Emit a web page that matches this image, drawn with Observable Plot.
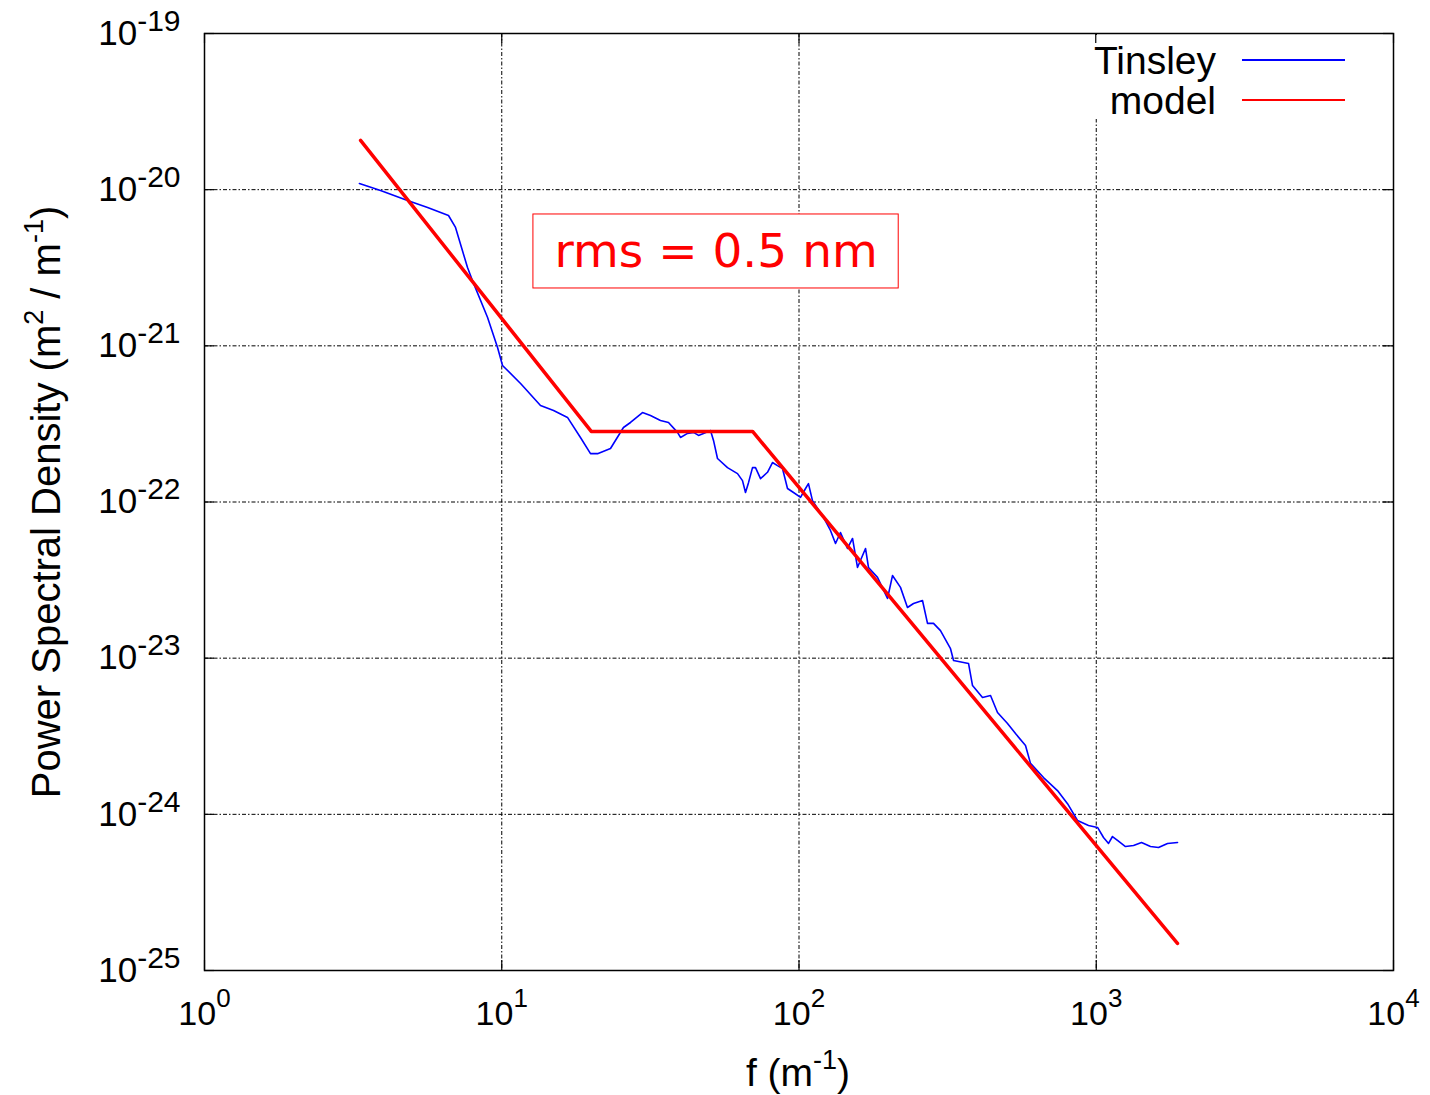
<!DOCTYPE html>
<html><head><meta charset="utf-8">
<script src="https://cdn.jsdelivr.net/npm/d3@7"></script>
<script src="https://cdn.jsdelivr.net/npm/@observablehq/plot@0.6"></script>
<style>
body{margin:0;background:#fff}
#chart svg{font-family:"Liberation Sans",Arial,sans-serif;background:#fff}
</style>
</head><body><div id="chart"></div>
<script>
// ---- data ----
const tinsleyF = [3.32,3.91,4.82,5.63,6.62,6.99,7.67,8.04,8.96,9.68,
  10.06,11.57,13.50,14.94,16.64,18.40,19.89,21.00,23.22,25.67,
  27.11,29.75,31.65,34.20,36.39,39.02,39.93,42.17,44.17,45.91,
  47.72,50.38,51.57,53.19,57.47,62.11,64.55,66.07,67.63,69.76,
  71.40,74.22,78.34,81.43,84.65,88.00,91.48,95.83,101.2,105.2,
  107.6,111.0,120.9,127.6,132.7,137.9,145.6,151.4,157.3,167.4,
  171.3,183.7,198.5,206.3,219.5,231.7,242.8,260.3,270.6,283.5,
  299.2,323.4,331.1,371.8,383.5,414.3,440.9,465.4,502.9,535.0,
  578.1,600.9,664.6,740.5,800.6,864.8,941.7,1010,1058,1100,
  1134,1179,1254,1335,1420,1522,1620,1737,1877];
const tinsleyP = [1.095e-20,9.88e-21,8.53e-21,7.69e-21,6.83e-21,5.73e-21,3.17e-21,2.51e-21,1.52e-21,9.76e-22,
  7.48e-22,5.74e-22,4.15e-22,3.85e-22,3.48e-22,2.59e-22,2.04e-22,2.04e-22,2.20e-22,3.00e-22,
  3.23e-22,3.74e-22,3.58e-22,3.33e-22,3.23e-22,2.79e-22,2.59e-22,2.75e-22,2.79e-22,2.67e-22,
  2.75e-22,2.87e-22,2.48e-22,1.90e-22,1.66e-22,1.52e-22,1.37e-22,1.15e-22,1.33e-22,1.66e-22,
  1.66e-22,1.41e-22,1.55e-22,1.79e-22,1.71e-22,1.64e-22,1.22e-22,1.15e-22,1.07e-22,1.22e-22,
  1.31e-22,1.02e-22,7.96e-23,6.57e-23,5.42e-23,6.38e-23,5.04e-23,5.84e-23,3.81e-23,5.04e-23,
  3.81e-23,3.29e-23,2.41e-23,3.38e-23,2.84e-23,2.11e-23,2.24e-23,2.34e-23,1.67e-23,1.67e-23,
  1.50e-23,1.15e-23,9.66e-24,9.25e-24,6.68e-24,5.60e-24,5.77e-24,4.49e-24,3.82e-24,3.29e-24,
  2.76e-24,2.12e-24,1.72e-24,1.42e-24,1.17e-24,9.13e-25,8.48e-25,8.24e-25,7.11e-25,6.51e-25,
  7.21e-25,6.80e-25,6.22e-25,6.32e-25,6.60e-25,6.22e-25,6.13e-25,6.51e-25,6.60e-25];
const modelF = [3.35, 20.0, 69.8, 1876];
const modelP = [2.07e-20, 2.83e-22, 2.83e-22, 1.49e-25];
const xTicks = [1, 10, 100, 1000, 10000];
const yTicks = [1e-25, 1e-24, 1e-23, 1e-22, 1e-21, 1e-20, 1e-19];
const xGrid = [10, 100, 1000];
const yGrid = [1e-24, 1e-23, 1e-22, 1e-21, 1e-20];
const seriesNames = ["Tinsley", "model"];
const seriesColors = ["#0000ff", "#ff0000"];
const annotationText = "rms = 0.5 nm";
const annotationF = [52.6];
const annotationP = [4.02e-21];
const xLabel = ["f (m", "-1", ")"];
const yLabel = ["Power Spectral Density (m", "2", " / m", "-1", ")"];

// ---- layout ----
const W = 1430, H = 1095, mL = 204, mR = 37, mT = 33, mB = 125;
const plotW = W - mL - mR, plotH = H - mT - mB;
const dots = "4,2,1.5,2";

const tIdx = d3.range(tinsleyF.length);
const mIdx = d3.range(modelF.length);

const chart = Plot.plot({
  width: W, height: H,
  marginLeft: mL, marginRight: mR, marginTop: mT, marginBottom: mB,
  style: {fontFamily: '"Liberation Sans", Arial, sans-serif', background: "#fff", color: "#000"},
  x: {type: "log", domain: [1, 1e4]},
  y: {type: "log", domain: [1e-25, 1e-19]},
  marks: [
    Plot.ruleX(xGrid, {stroke: "#000", strokeWidth: 1, strokeDasharray: dots}),
    Plot.ruleY(yGrid, {stroke: "#000", strokeWidth: 1, strokeDasharray: dots}),
    // inward ticks on all four sides
    Plot.ruleX(xTicks, {insetTop: plotH - 10, stroke: "#000", strokeWidth: 1.2}),
    Plot.ruleX(xTicks, {insetBottom: plotH - 10, stroke: "#000", strokeWidth: 1.2}),
    Plot.ruleY(yTicks, {insetRight: plotW - 10, stroke: "#000", strokeWidth: 1.2}),
    Plot.ruleY(yTicks, {insetLeft: plotW - 10, stroke: "#000", strokeWidth: 1.2}),
    Plot.axisX(xTicks, {tickSize: 0, tickPadding: 30, fontSize: 34, label: null,
      tickFormat: d => "10^" + Math.round(Math.log10(d))}),
    Plot.axisY(yTicks, {tickSize: 0, tickPadding: 24, fontSize: 35, label: null,
      tickFormat: d => "10^" + Math.round(Math.log10(d))}),
    Plot.line(tIdx, {x: i => tinsleyF[i], y: i => tinsleyP[i], stroke: seriesColors[0], strokeWidth: 1.6}),
    Plot.line(mIdx, {x: i => modelF[i], y: i => modelP[i], stroke: seriesColors[1], strokeWidth: 3.5}),
    Plot.text([0], {x: () => annotationF[0], y: () => annotationP[0], text: () => annotationText,
      fill: "#ff0000", fontSize: 47, fontFamily: '"DejaVu Sans", sans-serif'}),
    Plot.frame({stroke: "#000", strokeWidth: 1.5})
  ]
});
document.getElementById("chart").appendChild(chart);

const svg = d3.select(chart);
// superscript tick labels
function supify(sel, expSize, rise) {
  sel.each(function() {
    const t = d3.select(this);
    const s = t.text();
    const [base, exp] = s.split("^");
    t.text("");
    t.append("tspan").text(base);
    t.append("tspan").attr("dy", -rise).attr("font-size", expSize).text(exp);
  });
}
supify(svg.selectAll('g[aria-label="x-axis tick label"] text'), 26, 18);
supify(svg.selectAll('g[aria-label="y-axis tick label"] text'), 30, 14);

// axis titles with superscripts
function richText(g, parts, supSize, rise) {
  parts.forEach((p, k) => {
    const isSup = k % 2 === 1;
    const ts = g.append("tspan").text(p);
    if (isSup) ts.attr("font-size", supSize).attr("dy", -rise);
    else if (k > 0) ts.attr("dy", rise);
  });
}
const yl = svg.append("text").attr("transform", "translate(60,502) rotate(-90)")
  .attr("text-anchor", "middle").attr("font-size", 40).attr("fill", "#000");
richText(yl, yLabel, 27, 17);
const xl = svg.append("text").attr("x", 798).attr("y", 1086)
  .attr("text-anchor", "middle").attr("font-size", 39).attr("fill", "#000");
richText(xl, xLabel, 27, 17);

// annotation box (white fill hides grid behind it)
const xs = chart.scale("x"), ys = chart.scale("y");
const ax = xs.apply(annotationF[0]), ay = ys.apply(annotationP[0]);
const annText = svg.selectAll("text").filter(function(){ return d3.select(this).text() === annotationText; }).node();
const bb = annText.getBBox();
const annGroup = annText.parentNode;
const box = document.createElementNS("http://www.w3.org/2000/svg", "rect");
annGroup.parentNode.insertBefore(box, annGroup);
d3.select(box).attr("x", ax - bb.width / 2 - 21).attr("y", ay - 37)
  .attr("width", bb.width + 42).attr("height", 74)
  .attr("fill", "#fff").attr("stroke", "#ff0000").attr("stroke-width", 1);

// legend (inside top-right)
const leg = svg.append("g");
leg.append("rect").attr("x", 1084).attr("y", 35).attr("width", 270).attr("height", 84).attr("fill", "#fff");
seriesNames.forEach((name, i) => {
  const yb = 74 + i * 40;
  leg.append("text").attr("x", 1216).attr("y", yb).attr("text-anchor", "end")
    .attr("font-size", 39).attr("fill", "#000").text(name);
  leg.append("line").attr("x1", 1242).attr("x2", 1345).attr("y1", yb - 14).attr("y2", yb - 14)
    .attr("stroke", seriesColors[i]).attr("stroke-width", 2);
});
// redraw the top tick at 10^3 over the legend background
leg.append("line").attr("x1", xs.apply(1000)).attr("x2", xs.apply(1000)).attr("y1", mT).attr("y2", mT + 10)
  .attr("stroke", "#000").attr("stroke-width", 1.2);
</script>
</body></html>
